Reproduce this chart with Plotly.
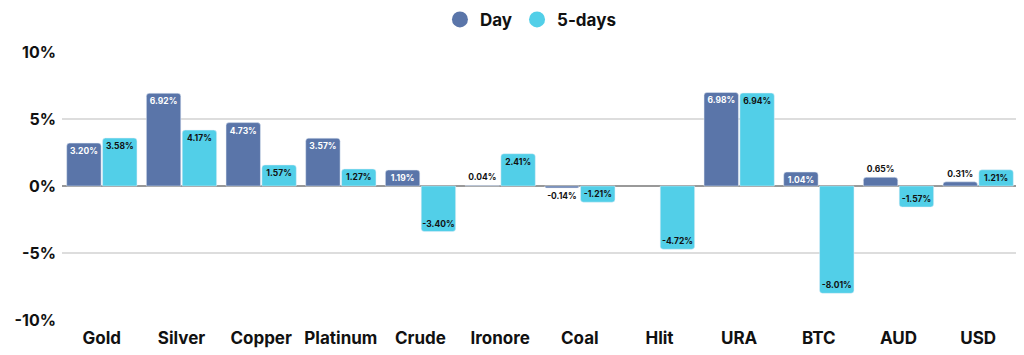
import plotly.graph_objects as go

categories = ["Gold", "Silver", "Copper", "Platinum", "Crude", "Ironore", "Coal", "Hlit", "URA", "BTC", "AUD", "USD"]
day_values = [3.20, 6.92, 4.73, 3.57, 1.19, 0.04, -0.14, None, 6.98, 1.04, 0.65, 0.31]
five_day_values = [3.58, 4.17, 1.57, 1.27, -3.40, 2.41, -1.21, -4.72, 6.94, -8.01, -1.57, 1.21]
y_ticks = [-10, -5, 0, 5, 10]
y_tick_labels = ["-10%", "-5%", "0%", "5%", "10%"]

DAY_COLOR = "#5A75A9"
FIVE_COLOR = "#52CFE8"
FONT = "Inter, Roboto, sans-serif"


def positions(vals):
    return ["inside" if (v is not None and abs(v) >= 1) else "outside" for v in vals]


def text_colors(vals, inside_color):
    return [inside_color if (v is not None and abs(v) >= 1) else "#111111" for v in vals]


def labels(vals):
    return ["" if v is None else f"{v:.2f}%" for v in vals]


fig = go.Figure()
fig.add_trace(go.Bar(
    x=categories, y=day_values, name="Day", marker_color=DAY_COLOR,
    text=labels(day_values), textposition=positions(day_values),
    insidetextanchor="end", textangle=0,
    textfont=dict(size=8.5, family=FONT, weight="bold", color=text_colors(day_values, "white")),
    showlegend=False, hoverinfo="skip", cliponaxis=False,
))
fig.add_trace(go.Bar(
    x=categories, y=five_day_values, name="5-days", marker_color=FIVE_COLOR,
    text=labels(five_day_values), textposition=positions(five_day_values),
    insidetextanchor="end", textangle=0,
    textfont=dict(size=8.5, family=FONT, weight="bold", color=text_colors(five_day_values, "#111111")),
    showlegend=False, hoverinfo="skip", cliponaxis=False,
))
# legend entries with circular markers
for name, color in [("Day", DAY_COLOR), ("5-days", FIVE_COLOR)]:
    fig.add_trace(go.Scatter(
        x=[None], y=[None], mode="markers", name=name,
        marker=dict(symbol="circle", size=16, color=color),
    ))

fig.update_layout(
    width=1016, height=347,
    margin=dict(l=54, r=6, t=44, b=35, autoexpand=False),
    paper_bgcolor="white", plot_bgcolor="white",
    barmode="group", bargap=0.1, bargroupgap=0.04,
    barcornerradius=3,
    uniformtext=dict(minsize=8.5, mode="show"),
    font=dict(family=FONT, color="#111111"),
    legend=dict(orientation="h", x=0.49, xanchor="center", y=1.12, yanchor="middle",
                font=dict(size=17, family=FONT, weight="bold"), itemsizing="trace",
                traceorder="normal"),
    xaxis=dict(showgrid=False, showline=False, ticks="", automargin=False,
               ticklabelstandoff=6,
               tickfont=dict(size=17, family=FONT, weight="bold")),
    yaxis=dict(range=[-10, 10], tickvals=y_ticks, ticktext=y_tick_labels,
               showgrid=True, gridcolor="#DDDDDD", gridwidth=1.5, automargin=False,
               zeroline=True, zerolinecolor="#999999", zerolinewidth=1.5,
               showline=False, ticks="", ticklabelstandoff=5,
               tickfont=dict(size=16, family=FONT, weight="bold")),
)

fig.write_html("out.html")
